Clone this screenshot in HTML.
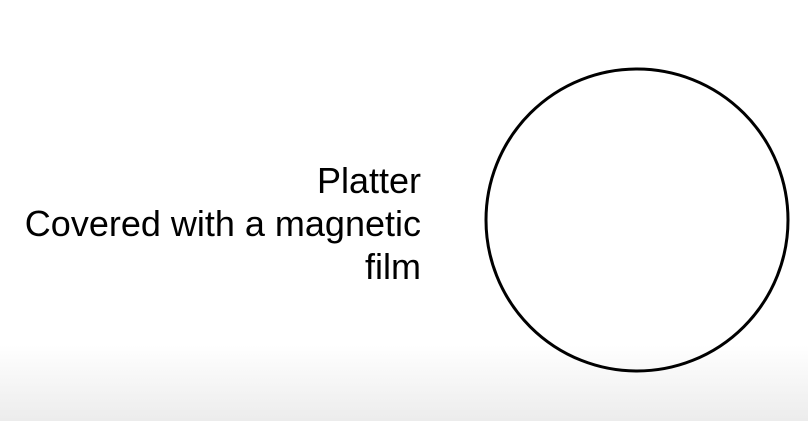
<!DOCTYPE html>
<html><head><meta charset="utf-8"><style>
html,body{margin:0;padding:0;}
body{width:808px;height:421px;position:relative;overflow:hidden;background:linear-gradient(to bottom,#fff 0,#fff 345px,#ececec 421px);font-family:"Liberation Sans",sans-serif;}
.txt{position:absolute;right:387px;top:159px;text-align:right;font-size:36px;line-height:43px;color:#000;}
svg{position:absolute;left:0;top:0;}
</style></head><body>
<div class="txt">Platter<br>Covered with a magnetic<br>film</div>
<svg width="808" height="421">
<circle cx="637" cy="220" r="151" fill="none" stroke="#000" stroke-width="3"/>
</svg>
</body></html>
